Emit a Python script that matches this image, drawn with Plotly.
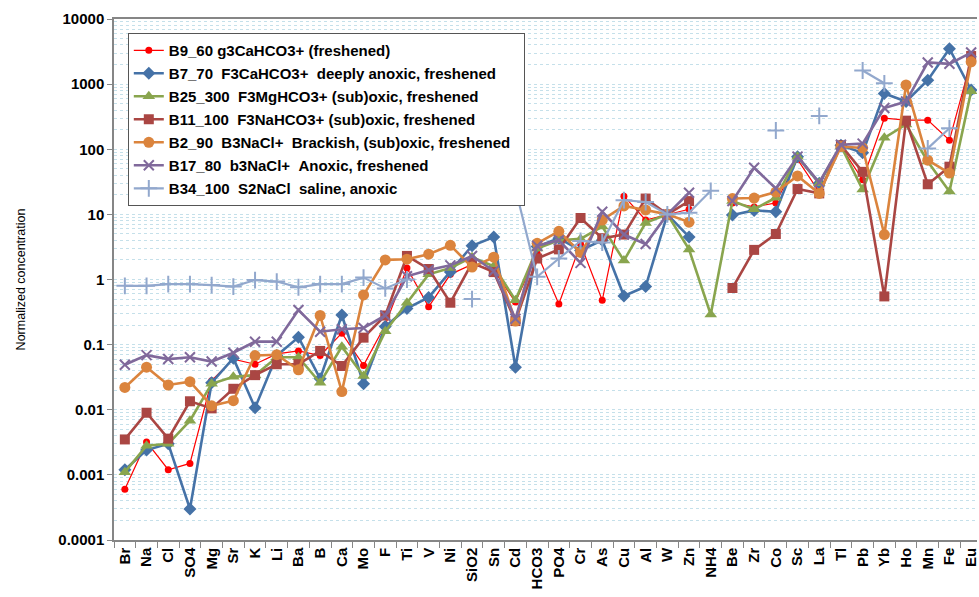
import plotly.graph_objects as go

# Elements / parameters along the x axis
categories = ["Br", "Na", "Cl", "SO4", "Mg", "Sr", "K", "Li", "Ba", "B", "Ca", "Mo", "F", "Ti", "V",
              "Ni", "SiO2", "Sn", "Cd", "HCO3", "PO4", "Cr", "As", "Cu", "Al", "W", "Zn", "NH4", "Be",
              "Zr", "Co", "Sc", "La", "Tl", "Pb", "Yb", "Ho", "Mn", "Fe", "Eu"]

# Normalized concentrations per sample (None = not analysed)
b9_60 = [0.0006, 0.0032, 0.0012, 0.0015, 0.028, 0.06, 0.05, 0.072, 0.08, 0.068, 0.15, 0.048, 0.2, 1.5,
         0.38, 1.2, 1.7, 1.4, 0.45, 2.5, 0.42, 3.5, 0.48, 19, 8.2, 10, 12, None, 15, 13, 15, 70, 22,
         110, 34, 300, 280, 280, 138, 2300]
b7_70 = [0.0012, 0.0024, 0.003, 0.0003, 0.026, 0.062, 0.0107, 0.068, 0.13, 0.03, 0.285, 0.025, 0.19,
         0.36, 0.53, 1.3, 3.3, 4.5, 0.045, 3.2, 4.3, 2.8, 4.0, 0.56, 0.78, 10, 4.5, None, 9.8, 11.5, 11,
         77, 30, 115, 88, 720, 540, 1150, 3500, 810]
b25_300 = [0.0011, 0.0028, 0.003, 0.0068, 0.025, 0.032, 0.034, 0.064, 0.064, 0.026, 0.093, 0.033, 0.16,
           0.44, 1.2, 1.5, 2.2, 1.6, 0.48, 3.0, 4.0, 4.2, 6.5, 1.95, 7.4, 10, 2.9, 0.29, 16, 12, 18, 77,
           30, 112, 24, 150, 240, 65, 22.5, 780]
b11_100 = [0.0035, 0.009, 0.0036, 0.0135, 0.0105, 0.021, 0.034, 0.05, 0.05, 0.08, 0.047, 0.128, 0.28,
           2.3, 1.45, 0.44, 1.8, 1.3, 0.23, 2.1, 2.9, 8.8, 4.3, 4.9, 17.5, 10, 16, None, 0.74, 2.85, 5.0,
           24.5, 21, 115, 45, 0.55, 275, 29, 54, 2700]
b2_90 = [0.022, 0.045, 0.024, 0.027, 0.0115, 0.0138, 0.068, 0.07, 0.041, 0.28, 0.019, 0.58, 2.0, 2.05,
         2.45, 3.35, 1.55, 2.2, 0.23, 3.6, 5.5, 2.6, 8.2, 13.5, 11.7, 10, 7.6, None, 17.5, 17.8, 22, 39,
         21, 110, 105, 4.9, 970, 68, 43, 2200]
b17_80 = [0.049, 0.069, 0.06, 0.064, 0.055, 0.075, 0.111, 0.111, 0.34, 0.158, 0.172, 0.18, 0.28, 1.12,
          1.4, 1.65, 2.3, 1.35, 0.25, 3.3, 4.0, 1.8, 11, 4.9, 3.5, 10, 21.5, None, 16, 52, 25, 77, 31,
          117, 122, 430, 540, 2150, 2050, 3050]
b34_100 = [0.8, 0.8, 0.85, 0.85, 0.82, 0.78, 0.98, 0.93, 0.76, 0.85, 0.85, 1.07, 0.73, 1.0, None, None,
           0.5, None, 25, 1.1, 2.1, 3.9, 3.7, 16.5, 15.5, 10, 10.6, 23, None, None, 194, None, 325, None,
           1620, 1030, None, 103, 210, None]

NB = "\u00a0"
series = [
    ("B9_60 g3CaHCO3+ (freshened)", b9_60, "#FF0000", "circle", 7, 1.2),
    (f"B7_70{NB}{NB}F3CaHCO3+{NB}{NB}deeply anoxic, freshened", b7_70, "#4572A7", "diamond", 10, 2.6),
    (f"B25_300{NB}{NB}F3MgHCO3+ (sub)oxic, freshened", b25_300, "#89A54E", "triangle-up", 11, 2.6),
    (f"B11_100{NB}{NB}F3NaHCO3+ (sub)oxic, freshened", b11_100, "#AA4643", "square", 10, 2.6),
    (f"B2_90{NB}{NB}B3NaCl+{NB}{NB}Brackish, (sub)oxic, freshened{NB}{NB}", b2_90, "#DB843D", "circle", 11, 2.6),
    (f"B17_80{NB}{NB}b3NaCl+{NB}{NB}Anoxic, freshened", b17_80, "#80699B", "x-thin", 10, 2.6),
    (f"B34_100{NB}{NB}S2NaCl{NB}{NB}saline, anoxic", b34_100, "#92A8CD", "cross-thin", 12, 2.2),
]

fig = go.Figure()
for i, (name, vals, color, symbol, size, lw) in enumerate(series):
    marker = dict(symbol=symbol, size=size, color=color)
    if symbol.endswith("-thin"):
        marker["line"] = dict(color=color, width=2)
    fig.add_trace(go.Scatter(
        x=categories, y=vals, name=name, mode="lines+markers",
        line=dict(color=color, width=lw), marker=marker,
        legendgroup=f"g{i}", connectgaps=False,
    ))

font_family = "Liberation Sans, Arial, sans-serif"
decades = [1e-4, 1e-3, 1e-2, 1e-1, 1, 10, 100, 1000, 10000]
decade_labels = ["0.0001", "0.001", "0.01", "0.1", "1", "10", "100", "1000", "10000"]

fig.update_layout(
    width=979, height=597,
    margin=dict(l=114, r=0, t=19, b=57),
    paper_bgcolor="white", plot_bgcolor="white",
    font=dict(family=font_family, color="black"),
    showlegend=True,
    legend=dict(
        x=0.016, y=0.973, xanchor="left", yanchor="top",
        bgcolor="white", bordercolor="#555555", borderwidth=1,
        font=dict(family=font_family, size=15, color="black", weight="bold"),
        tracegroupgap=0.5, itemwidth=30,
    ),
    xaxis=dict(
        type="category", range=[-0.5, 39.27],
        showline=True, linecolor="#868686", linewidth=1.5, mirror=True,
        ticks="outside", tickson="boundaries", ticklen=6, tickcolor="#868686",
        showgrid=False, tickangle=-90,
        tickfont=dict(family=font_family, size=15, color="black", weight="bold"),
    ),
    yaxis=dict(
        type="log", range=[-4, 4],
        tickvals=decades, ticktext=decade_labels,
        showline=True, linecolor="#868686", linewidth=1.5,
        ticks="outside", ticklen=5, tickcolor="#868686",
        showgrid=True, gridcolor="#C5E0EA", griddash="dot", gridwidth=1,
        minor=dict(showgrid=True, gridcolor="#C5E0EA", griddash="dot", gridwidth=1, dtick="D1"),
        zeroline=False,
        tickfont=dict(family=font_family, size=15, color="black", weight="bold"),
        title=dict(text="Normalized concentration", standoff=30,
                   font=dict(family=font_family, size=12.5, color="black")),
    ),
)

fig.write_html("out.html")
